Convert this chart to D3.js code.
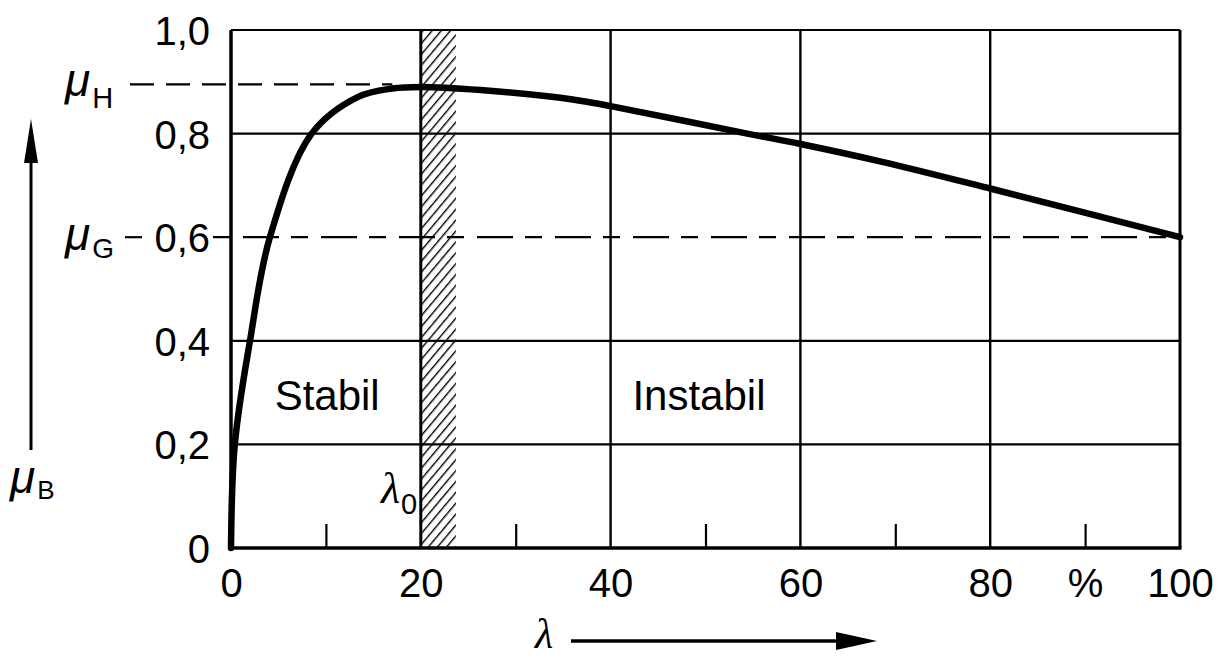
<!DOCTYPE html>
<html>
<head>
<meta charset="utf-8">
<script src="https://cdn.jsdelivr.net/npm/d3@7"></script>
<style>
  html, body { margin: 0; padding: 0; background: #fff; }
  svg { display: block; }
  text { font-family: "Liberation Sans", Arial, sans-serif; fill: #000; }
</style>
</head>
<body>
<svg id="chart" width="1217" height="658"></svg>
<script>
// ---- data ----
const lambdaValues = [0, 0.4, 2, 4.1, 8.5, 13.4, 17, 20, 26.3, 36, 40, 54.4, 60, 68.5, 80, 100];
const muValues     = [0, 0.2, 0.4, 0.6, 0.8, 0.871, 0.887, 0.89, 0.884, 0.866, 0.853, 0.80, 0.78, 0.746, 0.694, 0.60];
const yTicks = [0, 0.2, 0.4, 0.6, 0.8, 1.0];
const yGrid = [0.2, 0.4, 0.8, 1.0];
const xTicks = [0, 20, 40, 60, 80, 90, 100];
const xGrid = [20, 40, 60, 80, 100];
const xMinorTicks = [10, 30, 50, 70, 90];
const muH = 0.895;
const muG = 0.6;
const lambda0 = [20, 23.7];
const regionLabels = [{ text: "Stabil", x: 4.6 }, { text: "Instabil", x: 42.3 }];

// ---- scales ----
const x = d3.scaleLinear().domain([0, 100]).range([231, 1180]);
const y = d3.scaleLinear().domain([0, 1]).range([548, 30]);

const svg = d3.select("#chart");

// hatch pattern
const defs = svg.append("defs");
const pat = defs.append("pattern")
  .attr("id", "hatch").attr("patternUnits", "userSpaceOnUse")
  .attr("width", 7).attr("height", 7)
  .attr("patternTransform", "rotate(40)");
pat.append("line").attr("x1", 0).attr("y1", 0).attr("x2", 0).attr("y2", 7)
  .attr("stroke", "#000").attr("stroke-width", 2.8);

// hatched band
svg.append("rect")
  .attr("x", x(lambda0[0])).attr("y", y(1))
  .attr("width", x(lambda0[1]) - x(lambda0[0]))
  .attr("height", y(0) - y(1))
  .attr("fill", "url(#hatch)");

// grid lines
svg.append("g").selectAll("line").data(yGrid).join("line")
  .attr("x1", x(0)).attr("x2", x(100))
  .attr("y1", d => y(d)).attr("y2", d => y(d))
  .attr("stroke", "#000").attr("stroke-width", 2.2);
svg.append("g").selectAll("line").data(xGrid).join("line")
  .attr("x1", d => x(d)).attr("x2", d => x(d))
  .attr("y1", y(0)).attr("y2", y(1))
  .attr("stroke", "#000").attr("stroke-width", d => d === 100 || d === 20 ? 3 : 2.4);

// dashed reference lines
svg.append("line")
  .attr("x1", 130).attr("x2", x(17)).attr("y1", y(muH)).attr("y2", y(muH))
  .attr("stroke", "#000").attr("stroke-width", 2.2).attr("stroke-dasharray", "24,12");
svg.append("line")
  .attr("x1", 213).attr("x2", x(100)).attr("y1", y(muG)).attr("y2", y(muG))
  .attr("stroke", "#000").attr("stroke-width", 2.2).attr("stroke-dasharray", "17,13,36,12");
svg.append("line")
  .attr("x1", 125).attr("x2", 142).attr("y1", y(muG)).attr("y2", y(muG))
  .attr("stroke", "#000").attr("stroke-width", 2.2);

// minor ticks on bottom axis
const minorAxis = d3.axisBottom(x).tickValues(xMinorTicks).tickSize(-24).tickFormat("");
const gm = svg.append("g").attr("transform", `translate(0,${y(0)})`).call(minorAxis);
gm.select(".domain").remove();
gm.selectAll("line").attr("stroke", "#000").attr("stroke-width", 2.2);

// axes lines
svg.append("line").attr("x1", x(0)).attr("x2", x(0)).attr("y1", y(0) + 1.5).attr("y2", y(1))
  .attr("stroke", "#000").attr("stroke-width", 3.5);
svg.append("line").attr("x1", x(0) - 1.5).attr("x2", x(100) + 1.5).attr("y1", y(0)).attr("y2", y(0))
  .attr("stroke", "#000").attr("stroke-width", 3.5);

// y axis labels
const yAxis = d3.axisLeft(y).tickValues(yTicks).tickSize(0).tickPadding(21)
  .tickFormat(d => d === 0 ? "0" : d.toFixed(1).replace(".", ","));
const gy = svg.append("g").attr("transform", `translate(${x(0)},0)`).call(yAxis);
gy.select(".domain").remove();
gy.selectAll("text").style("font-family", '"Liberation Sans", Arial, sans-serif')
  .style("font-size", "40px").attr("fill", "#000").attr("dy", "0.36em");

// x axis labels
const xAxis = d3.axisBottom(x).tickValues(xTicks).tickSize(0).tickPadding(21)
  .tickFormat(d => d === 90 ? "%" : String(d));
const gx = svg.append("g").attr("transform", `translate(0,${y(0)})`).call(xAxis);
gx.select(".domain").remove();
gx.selectAll("text").style("font-family", '"Liberation Sans", Arial, sans-serif')
  .style("font-size", "40px").attr("fill", "#000");

// curve
const line = d3.line().x((d, i) => x(lambdaValues[i])).y(d => y(d)).curve(d3.curveCatmullRom.alpha(0.5));
svg.append("path").datum(muValues).attr("d", line)
  .attr("fill", "none").attr("stroke", "#000").attr("stroke-width", 6.5)
  .attr("stroke-linecap", "round").attr("stroke-linejoin", "round");

// region labels
svg.append("g").selectAll("text").data(regionLabels).join("text")
  .attr("x", d => x(d.x)).attr("y", 410)
  .style("font-size", "42px").text(d => d.text);

// mu labels
function muLabel(px, py, sub, subDx, subDy, subSize) {
  const t = svg.append("text").attr("x", px).attr("y", py);
  t.append("tspan").style("font-style", "italic").style("font-size", "46px").text("μ");
  t.append("tspan").attr("dx", 2).attr("dy", subDy).style("font-size", subSize + "px").text(sub);
}
muLabel(65, 96, "H", 2, 12, 29);
muLabel(65, 250, "G", 2, 8, 28);
muLabel(10, 493, "B", 2, 6, 26);

// lambda0 label
const l0 = svg.append("text").attr("x", 381).attr("y", 503);
l0.append("tspan").style("font-family", '"Liberation Serif", serif').style("font-style", "italic")
  .style("font-size", "44px").text("λ");
l0.append("tspan").attr("dx", 1).attr("dy", 11).style("font-size", "29px").text("0");

// y arrow
svg.append("line").attr("x1", 31).attr("x2", 31).attr("y1", 450).attr("y2", 150)
  .attr("stroke", "#000").attr("stroke-width", 3);
svg.append("path").attr("d", "M31,119 L24,163 L38,163 Z").attr("fill", "#000");

// x arrow and lambda
svg.append("text").attr("x", 535).attr("y", 648)
  .style("font-family", '"Liberation Serif", serif').style("font-style", "italic")
  .style("font-size", "42px").text("λ");
svg.append("line").attr("x1", 571).attr("x2", 845).attr("y1", 641).attr("y2", 641)
  .attr("stroke", "#000").attr("stroke-width", 3.5);
svg.append("path").attr("d", "M877,641 L836,632 L836,650 Z").attr("fill", "#000");
</script>
</body>
</html>
